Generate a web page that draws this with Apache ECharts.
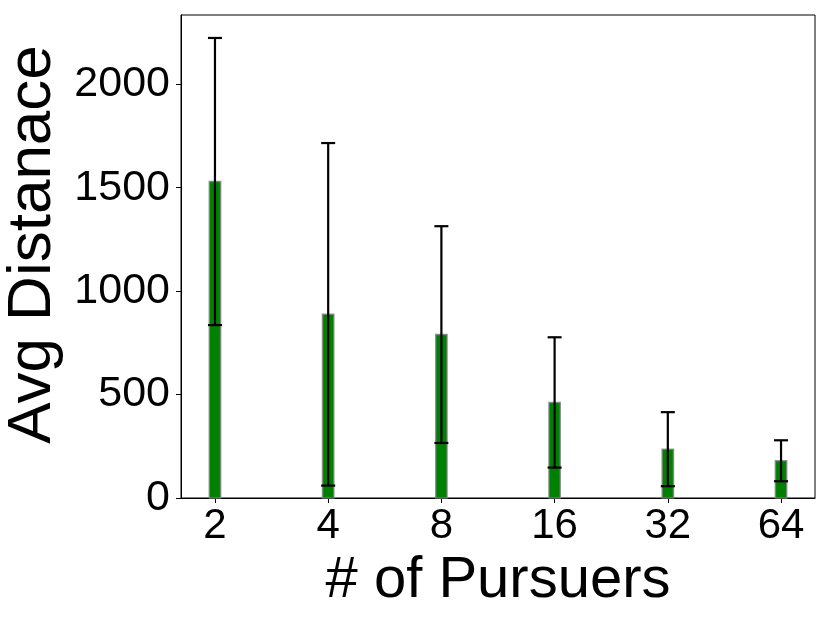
<!DOCTYPE html>
<html>
<head>
<meta charset="utf-8">
<script src="https://cdn.jsdelivr.net/npm/echarts@6/dist/echarts.min.js"></script>
<style>
  html, body { margin: 0; padding: 0; background: #fff; }
  #chart { width: 830px; height: 623px; }
</style>
</head>
<body>
<div id="chart"></div>
<script>
  // data
  const pursuers = ['2', '4', '8', '16', '32', '64'];
  const avgDistance = [1530, 888, 790, 462, 236, 180];
  const stdDistance = [694, 828, 524, 315, 179, 99];
  const yTicks = [0, 500, 1000, 1500, 2000];

  const font = '"Liberation Sans", Arial, sans-serif';
  const xIdx = pursuers.map((p, i) => i);

  const chart = echarts.init(document.getElementById('chart'));

  chart.setOption({
    animation: false,
    grid: {
      left: 181, right: 15, top: 15, bottom: 125,
      outerBoundsMode: 'none',
      containLabel: false,
      show: true, borderColor: '#000', borderWidth: 1
    },
    xAxis: {
      type: 'value',
      min: -0.3, max: 5.3,
      name: '# of Pursuers',
      nameLocation: 'middle',
      nameGap: 47,
      nameTextStyle: { fontFamily: font, fontSize: 58, color: '#000' },
      splitLine: { show: false },
      axisLine: { show: true, onZero: false, lineStyle: { color: '#000', width: 1 } },
      axisTick: { show: true, length: 5, lineStyle: { color: '#000' }, customValues: xIdx },
      axisLabel: {
        customValues: xIdx,
        fontFamily: font, fontSize: 42, color: '#000', margin: 7,
        formatter: v => pursuers[Math.round(v)]
      }
    },
    yAxis: {
      type: 'value',
      min: 0, max: 2335,
      name: 'Avg Distanace',
      nameLocation: 'middle',
      nameGap: 92,
      nameTextStyle: { fontFamily: font, fontSize: 62, color: '#000', padding: [0, 0, 0, 24] },
      splitLine: { show: false },
      axisLine: { show: true, onZero: false, lineStyle: { color: '#000', width: 1 } },
      axisTick: { show: true, length: 5, lineStyle: { color: '#000' }, customValues: yTicks },
      axisLabel: {
        customValues: yTicks,
        fontFamily: font, fontSize: 43, color: '#000', margin: 11,
        formatter: v => String(v)
      }
    },
    series: [
      {
        name: 'bars',
        type: 'custom',
        renderItem: function (params, api) {
          const x = api.value(0);
          const top = api.coord([x - 0.05, api.value(1)]);
          const base = api.coord([x + 0.05, 0]);
          return {
            type: 'rect',
            shape: { x: top[0], y: top[1], width: base[0] - top[0], height: base[1] - top[1] },
            style: { fill: '#008000', stroke: 'rgba(128,128,128,0.8)', lineWidth: 1.5 }
          };
        },
        data: xIdx.map(i => [i, avgDistance[i]]),
        z: 2
      },
      {
        name: 'std',
        type: 'custom',
        renderItem: function (params, api) {
          const x = api.value(0);
          const hi = api.coord([x, api.value(1)]);
          const lo = api.coord([x, api.value(2)]);
          const cap = 7;
          const st = { stroke: '#000', lineWidth: 2.2 };
          return {
            type: 'group',
            children: [
              { type: 'line', shape: { x1: hi[0], y1: hi[1], x2: lo[0], y2: lo[1] }, style: st },
              { type: 'line', shape: { x1: hi[0] - cap, y1: hi[1], x2: hi[0] + cap, y2: hi[1] }, style: st },
              { type: 'line', shape: { x1: lo[0] - cap, y1: lo[1], x2: lo[0] + cap, y2: lo[1] }, style: st }
            ]
          };
        },
        data: xIdx.map(i => [i, avgDistance[i] + stdDistance[i], avgDistance[i] - stdDistance[i]]),
        z: 3
      }
    ]
  });

  window.onresize = function () {
    chart.resize();
  };
</script>
</body>
</html>
